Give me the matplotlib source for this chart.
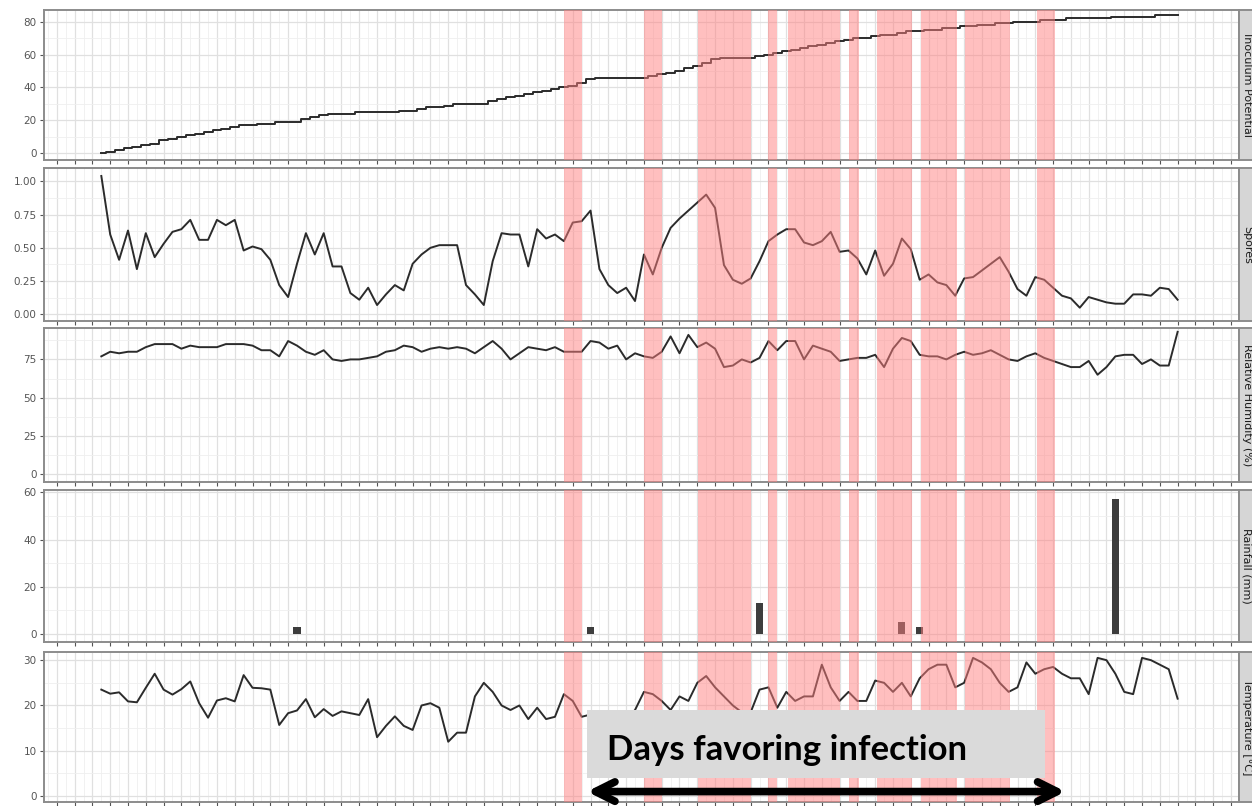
import matplotlib.pyplot as plt
from matplotlib.ticker import MultipleLocator

# ---- data (one value per day) ----
days = list(range(122))

inoculum = [0, 1, 2, 3, 4, 5, 6, 8,
            9, 10, 11, 12, 13, 14, 15, 16,
            17, 17, 18, 18, 19, 19, 19,
            21, 22, 23, 24, 24, 24, 25,
            25, 25, 25, 25, 26, 26, 27,
            28, 28, 29, 30, 30, 30, 30,
            32, 33, 34, 35, 36, 37, 38,
            39, 40, 41, 43, 45,
            46, 46, 46, 46, 46, 46,
            47, 48, 49, 50, 52, 53, 55, 57,
            58, 58, 58, 58, 59,
            60, 61, 62, 63, 64, 65, 66, 67, 68,
            69, 70, 70, 71, 72, 72, 73, 74,
            74, 75, 75, 76, 76, 77, 77, 78, 78, 79,
            79, 80, 80, 80, 81, 81,
            81, 82, 82, 82, 82,
            82, 83, 83, 83, 83, 83, 84, 84, 84]

spores = [1.04, 0.60, 0.41, 0.63, 0.34, 0.61, 0.43, 0.53, 0.62, 0.64,
          0.71, 0.56, 0.56, 0.71, 0.67, 0.71, 0.48, 0.51, 0.49, 0.41,
          0.22, 0.13, 0.38, 0.61, 0.45, 0.61, 0.36, 0.36, 0.16, 0.11,
          0.20, 0.07, 0.15, 0.22, 0.18, 0.38, 0.45, 0.50, 0.52, 0.52,
          0.52, 0.22, 0.15, 0.07, 0.40, 0.61, 0.60, 0.60, 0.36, 0.64,
          0.57, 0.60, 0.55, 0.69, 0.70, 0.78, 0.34, 0.22, 0.16, 0.20,
          0.10, 0.45, 0.30, 0.50, 0.65, 0.72, 0.78, 0.84, 0.90, 0.80,
          0.37, 0.26, 0.23, 0.27, 0.40, 0.55, 0.60, 0.64, 0.64, 0.54,
          0.52, 0.55, 0.62, 0.47, 0.48, 0.42, 0.30, 0.48, 0.29, 0.38,
          0.57, 0.49, 0.26, 0.30, 0.24, 0.22, 0.14, 0.27, 0.28, 0.33,
          0.38, 0.43, 0.32, 0.19, 0.14, 0.28, 0.26, 0.20, 0.14, 0.12,
          0.05, 0.13, 0.11, 0.09, 0.08, 0.08, 0.15, 0.15, 0.14, 0.20,
          0.19, 0.11]

humidity = [77, 80, 79, 80, 80, 83, 85, 85, 85, 82,
            84, 83, 83, 83, 85, 85, 85, 84, 81, 81,
            77, 87, 84, 80, 78, 81, 75, 74, 75, 75,
            76, 77, 80, 81, 84, 83, 80, 82, 83, 82,
            83, 82, 79, 83, 87, 82, 75, 79, 83, 82,
            81, 83, 80, 80, 80, 87, 86, 82, 84, 75,
            79, 77, 76, 80, 90, 79, 91, 83, 86, 82,
            70, 71, 75, 73, 76, 87, 81, 87, 87, 75,
            84, 82, 80, 74, 75, 76, 76, 78, 70, 82,
            89, 87, 78, 77, 77, 75, 78, 80, 78, 79,
            81, 78, 75, 74, 77, 79, 76, 74, 72, 70,
            70, 74, 65, 70, 77, 78, 78, 72, 75, 71,
            71, 93]

rain_days = [22, 55, 74, 90, 92, 114]
rain_mm = [3, 3, 13, 5, 3, 57]

temperature = [23.5, 22.6, 22.9, 20.9, 20.7, 23.9, 27.0, 23.5, 22.4, 23.6,
               25.3, 20.5, 17.3, 21.1, 21.6, 20.9, 26.7, 23.9, 23.8, 23.5,
               15.7, 18.3, 18.9, 21.4, 17.4, 19.2, 17.7, 18.7, 18.3, 17.9,
               21.4, 13.0, 15.5, 17.6, 15.5, 14.6, 20.0, 20.5, 19.5, 12.0,
               14.0, 14.0, 22.0, 25.0, 23.0, 20.0, 19.0, 20.0, 17.0, 19.5,
               17.0, 17.5, 22.5, 21.0, 17.5, 18.0, 17.0, 16.0, 18.0, 17.0,
               19.0, 23.0, 22.5, 21.0, 19.0, 22.0, 21.0, 25.0, 26.5, 24.0,
               22.0, 20.0, 18.5, 18.5, 23.5, 24.0, 19.5, 23.0, 21.0, 22.0,
               22.0, 29.0, 24.0, 21.0, 23.0, 21.0, 21.0, 25.5, 25.0, 23.0,
               25.0, 22.0, 26.0, 28.0, 29.0, 29.0, 24.0, 25.0, 30.5, 29.5,
               28.0, 25.0, 23.0, 24.0, 29.5, 27.0, 28.0, 28.5, 27.0, 26.0,
               26.0, 22.5, 30.5, 30.0, 27.0, 23.0, 22.5, 30.5, 30.0, 29.0,
               28.0, 21.5]

# infection-favouring periods (start day, end day)
periods = [(52, 54), (61, 63), (67.1, 73), (74.9, 76), (77.2, 83.1),
           (84, 85.2), (87.2, 91.1), (92.1, 96.2), (97.1, 102.1), (105.2, 107.2)]

strip_labels = ["Inoculum Potential", "Spores", "Relative Humidity (%)",
                "Rainfall (mm)", "Temperature [°C]"]

# ---- layout ----
W, H = 1252, 806
fig = plt.figure(figsize=(W / 100, H / 100), dpi=100)

panel_px = [(10, 160), (168, 321), (328, 482), (490, 642), (652, 802)]
left_px, right_px = 43.5, 1239
ylims = [(-4, 87), (-0.05, 1.1), (-5, 95.5), (-3.4, 61), (-1.3, 31.8)]
yticks = [[0, 20, 40, 60, 80], [0, 0.25, 0.5, 0.75, 1.0],
          [0, 25, 50, 75], [0, 20, 40, 60], [0, 10, 20, 30]]
ylabels_fmt = ["{:.0f}", "{:.2f}", "{:.0f}", "{:.0f}", "{:.0f}"]

border = "#8c8c8c"
axes = []
for i, (top, bot) in enumerate(panel_px):
    ax = fig.add_axes([left_px / W, (H - bot) / H, (right_px - left_px) / W, (bot - top) / H])
    ax.set_xlim(-6.5, 127.9)
    ax.set_ylim(*ylims[i])
    ax.set_yticks(yticks[i])
    ax.set_yticklabels([ylabels_fmt[i].format(v) for v in yticks[i]])
    step = yticks[i][1] - yticks[i][0]
    ax.yaxis.set_minor_locator(MultipleLocator(step / 2))
    ax.set_xticks(range(-5, 128, 2))
    ax.xaxis.set_minor_locator(MultipleLocator(1))
    ax.set_xticklabels([])
    ax.grid(which="major", color="#e0e0e0", lw=0.9)
    ax.grid(which="minor", color="#efefef", lw=0.6)
    ax.set_axisbelow(True)
    ax.tick_params(which="major", length=3, color="#555555", labelsize=7.5,
                   labelcolor="#555555", pad=2)
    ax.tick_params(which="minor", length=0)
    for s in ax.spines.values():
        s.set_color(border)
        s.set_linewidth(1.4)
    for a, b in periods:
        ax.axvspan(a, b, color="#ff8080", alpha=0.5, lw=0, zorder=5)

    # strip on the right (cut by the figure edge)
    sax = fig.add_axes([right_px / W, (H - bot) / H, 20 / W, (bot - top) / H])
    sax.set_facecolor("#d6d6d6")
    sax.set_xticks([])
    sax.set_yticks([])
    for s in sax.spines.values():
        s.set_color(border)
        s.set_linewidth(1.4)
    sax.text(0.4, 0.5, strip_labels[i], rotation=-90, ha="center", va="center",
             fontsize=8, color="#1a1a1a", transform=sax.transAxes)
    axes.append(ax)

line_kw = dict(color="#2b2b2b", lw=1.4, zorder=3)
axes[0].plot(days, inoculum, drawstyle="steps-mid", **line_kw)
axes[1].plot(days, spores, **line_kw)
axes[2].plot(days, humidity, **line_kw)
axes[3].bar(rain_days, rain_mm, width=0.8, color="#3d3d3d", zorder=3)
axes[4].plot(days, temperature, **line_kw)

# annotation
tax = axes[4]
tax.add_patch(plt.Rectangle((54.6, 3.9), 51.5, 15.1, facecolor="#dadada",
                            edgecolor="none", zorder=6, clip_on=False))
tax.text(56.9, 10.2, "Days favoring infection", fontsize=25, fontweight="bold",
         family=["Lato", "DejaVu Sans"], color="black", ha="left", va="center", zorder=7)
tax.annotate("", xy=(54.6, 1.0), xytext=(108.4, 1.0),
             arrowprops=dict(arrowstyle="<->,head_length=1.4,head_width=0.7",
                             color="black", lw=5.5, shrinkA=0, shrinkB=0),
             zorder=8, annotation_clip=False)

fig.savefig("out.png", dpi=100)
